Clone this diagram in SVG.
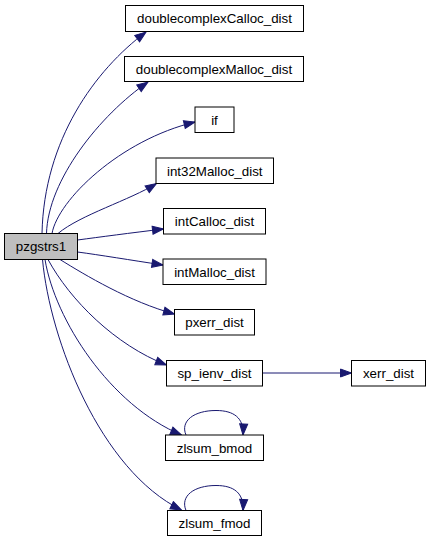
<svg xmlns="http://www.w3.org/2000/svg" width="431" height="541" viewBox="0 0 431 541">
<style>
.n rect{fill:#fff;stroke:#000;stroke-width:1}
.n text{font-family:"Liberation Sans",Arial,Helvetica,sans-serif;font-size:13.33px;text-anchor:middle;fill:#000}
#node_pzgstrs1 rect{fill:#bfbfbf}
.e path{fill:none;stroke:#191970;stroke-width:1;marker-end:url(#ah)}
</style>
<defs>
<marker id="ah" markerUnits="userSpaceOnUse" markerWidth="13" markerHeight="10" refX="11" refY="4" orient="auto" viewBox="-1 -1 13 10">
<path d="M0,0 L11,4 L0,8 Z" fill="#191970" stroke="#191970" stroke-width="1"/>
</marker>
</defs>
<rect width="431" height="541" fill="#fff"/>
<g id="edges" class="e">
<path d="M42,233.5 C44,140 95,70 146,32"/>
<path d="M46.5,233.5 C48,180 100,115 148,82"/>
<path d="M52,233.5 C58,200 120,140 195,122"/>
<path d="M58,233.5 C80,215 130,200 156.5,183.5"/>
<path d="M77.5,240 C100,237 130,233 163.5,229"/>
<path d="M77.5,252 C100,255 130,260 163,265"/>
<path d="M60,259.5 C85,275 130,302 174.5,314"/>
<path d="M48,259.5 C70,300 115,345 166.5,365"/>
<path d="M45,259.5 C55,320 110,405 181.5,435"/>
<path d="M42.5,259.5 C50,340 100,470 181.5,510"/>
<path d="M262.5,373 L351.5,373"/>
<path d="M186,435 C180,421 194,410.5 216,410.5 C234,410.5 244,418 243,435"/>
<path d="M186,510.5 C180,496 194,485.5 216,485.5 C234,485.5 244,493 243,510.5"/>
</g>
<g id="node_pzgstrs1" class="n"><rect x="4.5" y="233.5" width="73" height="26"/><text x="41" y="251">pzgstrs1</text></g>
<g id="node_doublecomplexCalloc_dist" class="n"><rect x="125.5" y="5.5" width="178" height="26"/><text x="214.5" y="23">doublecomplexCalloc_dist</text></g>
<g id="node_doublecomplexMalloc_dist" class="n"><rect x="124.5" y="56.5" width="179" height="25"/><text x="214" y="73.5">doublecomplexMalloc_dist</text></g>
<g id="node_if" class="n"><rect x="195" y="107" width="39" height="25.5"/><text x="214.5" y="124.5">if</text></g>
<g id="node_int32Malloc_dist" class="n"><rect x="156" y="158" width="117.5" height="25.5"/><text x="214.75" y="175.5">int32Malloc_dist</text></g>
<g id="node_intCalloc_dist" class="n"><rect x="163.5" y="208.5" width="102" height="25.5"/><text x="214.5" y="226">intCalloc_dist</text></g>
<g id="node_intMalloc_dist" class="n"><rect x="163" y="259" width="103" height="25.5"/><text x="214.5" y="276.5">intMalloc_dist</text></g>
<g id="node_pxerr_dist" class="n"><rect x="174.5" y="309.5" width="80" height="25.5"/><text x="214.5" y="327">pxerr_dist</text></g>
<g id="node_sp_ienv_dist" class="n"><rect x="166.5" y="360.5" width="96" height="25.5"/><text x="214.5" y="378">sp_ienv_dist</text></g>
<g id="node_xerr_dist" class="n"><rect x="351.5" y="360.5" width="74" height="25.5"/><text x="388.5" y="378">xerr_dist</text></g>
<g id="node_zlsum_bmod" class="n"><rect x="165.5" y="435" width="98" height="25.5"/><text x="214.5" y="452.5">zlsum_bmod</text></g>
<g id="node_zlsum_fmod" class="n"><rect x="167.5" y="510.5" width="94" height="25"/><text x="214.5" y="527.5">zlsum_fmod</text></g>
</svg>
